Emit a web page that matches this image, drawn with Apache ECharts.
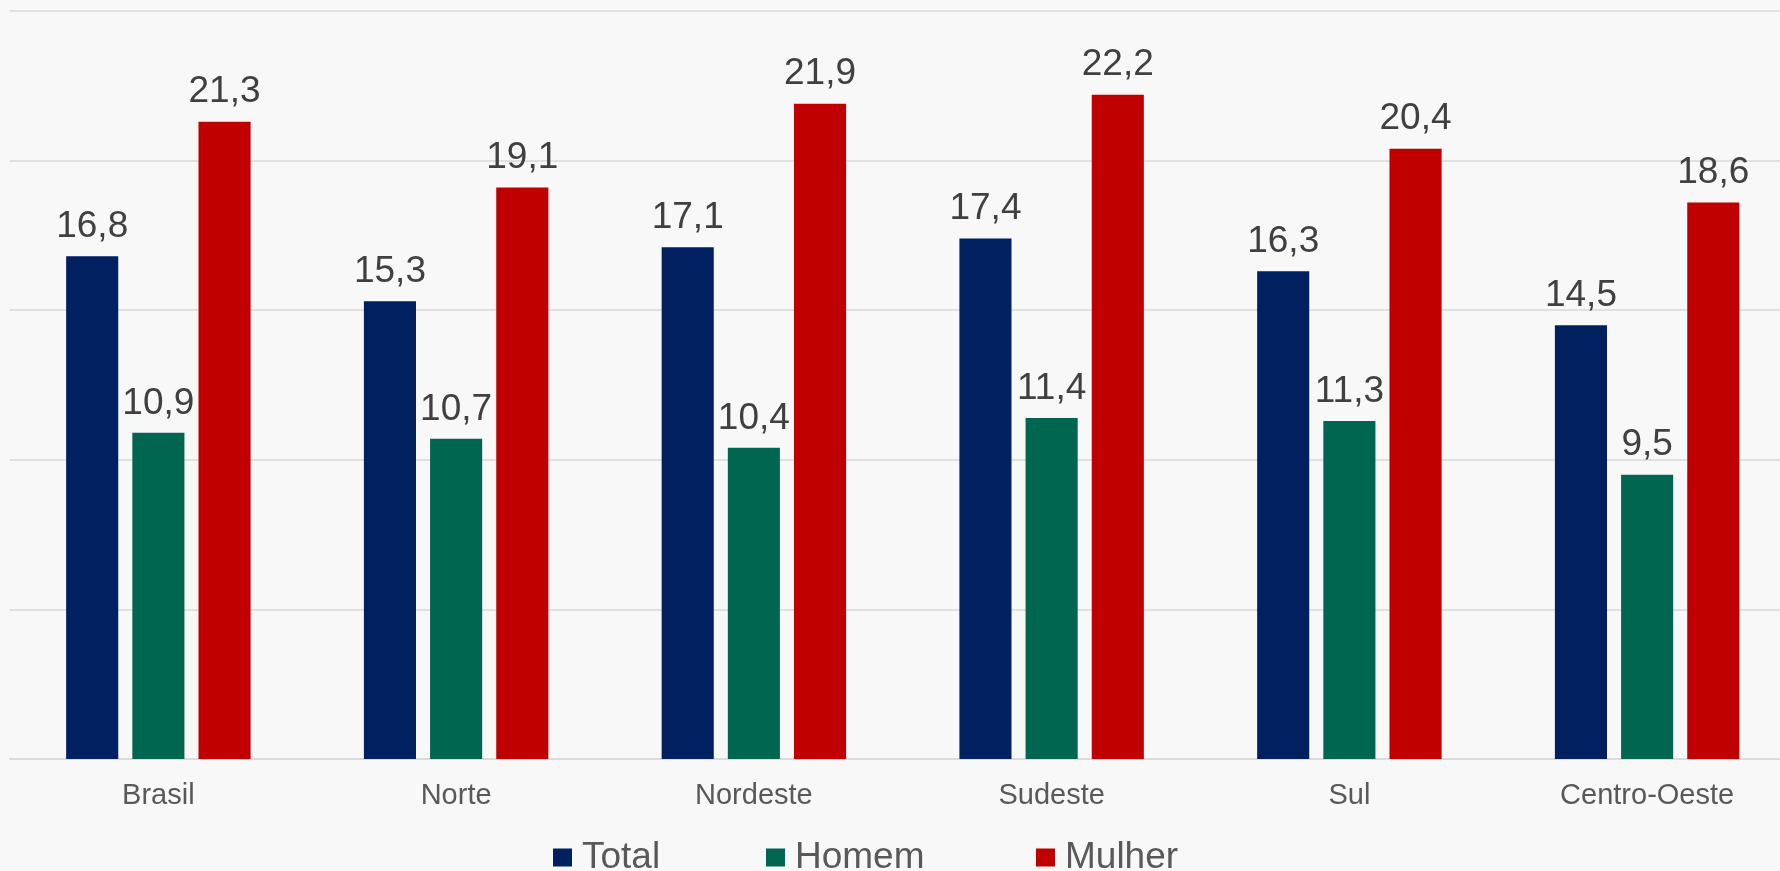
<!DOCTYPE html>
<html>
<head>
<meta charset="utf-8">
<title>Total / Homem / Mulher por região</title>
<script src="https://cdn.jsdelivr.net/npm/echarts@6/dist/echarts.min.js"></script>
<style>
	html, body { margin: 0; padding: 0; background: #f8f8f8; overflow: hidden; }
	/* a área do gráfico passa um pouco da borda direita, como no original */
	#chart { width: 1796px; height: 871px; }
</style>
</head>
<body>
<div id="chart"></div>
<script>
// dados do gráfico
var categorias = ["Brasil", "Norte", "Nordeste", "Sudeste", "Sul", "Centro-Oeste"];
var totalArr = [16.8, 15.3, 17.1, 17.4, 16.3, 14.5];
var homemArr = [10.9, 10.7, 10.4, 11.4, 11.3, 9.5];
var mulherArr = [21.3, 19.1, 21.9, 22.2, 20.4, 18.6];
var nomesSeries = ["Total", "Homem", "Mulher"];

var cores = ["#002060", "#00664f", "#c00000"];
var fonte = "'Liberation Sans', Arial, sans-serif";

// rótulo com vírgula decimal
function rotulo(p) {
	return p.value.toFixed(1).replace(".", ",");
}

function serie(nome, dados, cor) {
	return {
		name : nome,
		type : 'bar',
		barWidth : '17.5%',
		barGap : '27%',
		data : dados,
		itemStyle : {
			color : cor
		},
		label : {
			show : true,
			position : 'top',
			distance : 11,
			formatter : rotulo,
			fontSize : 37,
			color : "#404040",
			fontFamily : fonte
		}
	};
}

// uma legenda por série (colunas fixas como no original)
var legendaX = [553, 766, 1036];
var legendas = [];
for (var i = 0; i < nomesSeries.length; i++) {
	legendas.push({
		data : [nomesSeries[i]],
		left : legendaX[i] - 5,
		top : 834,
		itemWidth : 19,
		itemHeight : 18,
		icon : 'rect',
		selectedMode : false,
		textStyle : {
			fontSize : 37,
			color : "#595959",
			fontFamily : fonte,
			padding : [0, 0, 0, 5]
		}
	});
}

var myChart = echarts.init(document.getElementById("chart"));
var option = {
	backgroundColor : "#f8f8f8",
	animation : false,
	grid : {
		left : 9.5,
		right : 0,
		top : 11,
		bottom : 112
	},
	legend : legendas,
	xAxis : [ {
		type : 'category',
		data : categorias,
		axisLine : {
			show : true,
			lineStyle : { color : "#d9d9d9", width : 1.5 }
		},
		axisTick : { show : false },
		axisLabel : {
			fontSize : 29,
			margin : 22,
			color : "#595959",
			fontFamily : fonte
		}
	} ],
	yAxis : [ {
		type : 'value',
		min : 0,
		max : 25,
		interval : 5,
		axisLine : { show : false },
		axisTick : { show : false },
		axisLabel : { show : false },
		splitLine : {
			lineStyle : { color : "#d9d9d9", width : 1.5 }
		}
	} ],
	series : [
		serie(nomesSeries[0], totalArr, cores[0]),
		serie(nomesSeries[1], homemArr, cores[1]),
		serie(nomesSeries[2], mulherArr, cores[2])
	]
};
myChart.setOption(option);
</script>
</body>
</html>
